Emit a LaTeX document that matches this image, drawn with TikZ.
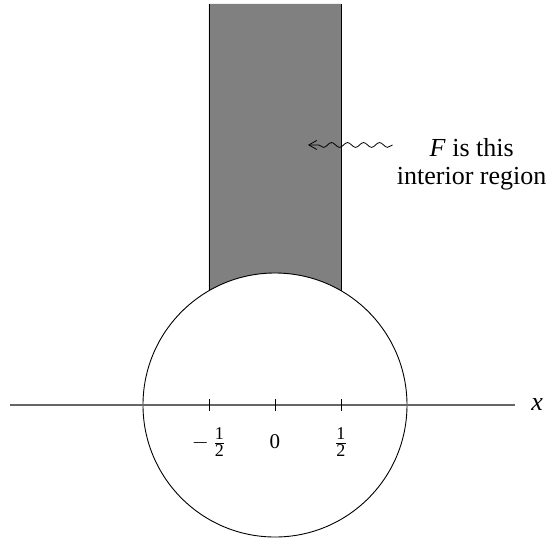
\documentclass[tikz,border=0pt]{standalone}
\usepackage{fontspec}
\setmainfont{Liberation Serif}
\usetikzlibrary{positioning,arrows.meta,decorations.pathmorphing}
\definecolor{regiongray}{HTML}{808080}
\definecolor{axisgray}{HTML}{666666}
\newcommand{\fhalf}{$\frac{\mbox{\fontsize{9}{9}\selectfont 1}}{\mbox{\fontsize{9}{9}\selectfont 2}}$}
\tikzset{
  region/.style   = {fill=regiongray, draw=none},
  edge/.style     = {draw=black, line width=0.45pt},
  disc/.style     = {draw=black, line width=0.45pt},
  axisline/.style = {draw=axisgray, line width=0.6pt},
  tickmark/.style = {draw=black, line width=0.45pt},
  ticklab/.style  = {font=\fontsize{10.5}{12}\selectfont, inner sep=1pt},
  note/.style     = {font=\fontsize{13}{14}\selectfont, align=center, inner sep=2pt},
  wiggle/.style   = {-{Straight Barb[length=4pt,width=4.5pt]}, line width=0.4pt,
                     decorate, decoration={snake, segment length=8pt, amplitude=1.2pt,
                     post length=4pt}},
}
\begin{document}
\begin{tikzpicture}[x=66pt,y=66pt]
  \useasboundingbox (-2.0833,-1.0152) rectangle (2.0833,3.0682);
  % the strip over the unit circle
  \coordinate (tl) at (-0.5,3.038);
  \coordinate (tr) at (0.5,3.038);
  \coordinate (bl) at (-0.5,0.866);
  \coordinate (br) at (0.5,0.866);
  \fill[region] (tl) -- (bl) arc[start angle=120,end angle=60,radius=1] -- (tr) -- cycle;
  \draw[edge] (tl) -- (bl);
  \draw[edge] (tr) -- (br);

  % unit circle
  \coordinate (o) at (0,0);
  \draw[disc] (o) circle[radius=1];

  % real axis
  \coordinate (axl) at (-2.008,0);
  \coordinate (axr) at (1.818,0);
  \draw[axisline] (axl) -- (axr);
  \node[right=5pt of axr, font=\fontsize{13}{14}\selectfont, inner sep=3pt] (xlab) {\textit{x}};
  \foreach \t/\lab/\nm in {-0.5/{$-\,$\fhalf}/tm, 0/0/tz, 0.5/\fhalf/tp} {
    \draw[tickmark] (\t,-0.045) -- (\t,0.045);
    \node[ticklab] (\nm) at (\t,-0.28) {\lab};
  }

  % --- pointer into the region ---
  \node[note] (flab) at (1.49,1.82) {\textit{F} is this\\interior region};
  \coordinate (ftip) at (0.25,1.97);
  \draw[wiggle] (flab.west |- ftip) -- (ftip);
\end{tikzpicture}
\end{document}
